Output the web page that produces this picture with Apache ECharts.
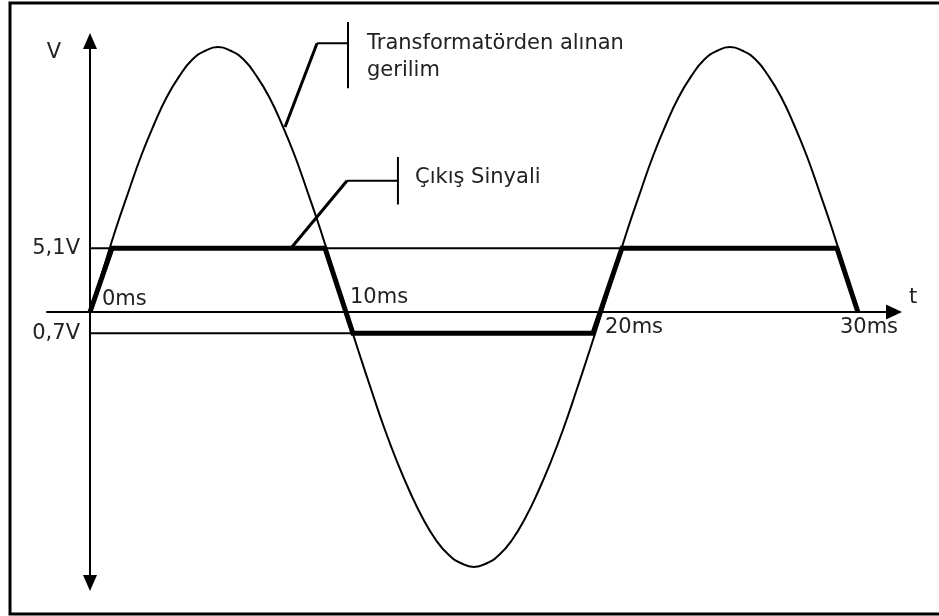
<!DOCTYPE html>
<html>
<head>
    <meta charset="utf-8">
    <script src="https://cdn.jsdelivr.net/npm/echarts@6/dist/echarts.min.js"></script>
    <style>
        html, body { margin: 0; padding: 0; background: #fff; }
        #main { width: 939px; height: 616px; }
    </style>
</head>
<body>
<div id="main"></div>
<script type="text/javascript">
    // zaman (ms) ve gerilim (çizim birimi), resimden okunan noktalar
    var sineTime = [0, 0.5, 1, 1.5, 2, 2.5, 3, 3.5, 4, 4.5, 5, 5.5, 6, 6.5, 7, 7.5, 8, 8.5, 9, 9.5,
                    10, 10.5, 11, 11.5, 12, 12.5, 13, 13.5, 14, 14.5, 15, 15.5, 16, 16.5, 17, 17.5, 18, 18.5, 19, 19.5,
                    20, 20.5, 21, 21.5, 22, 22.5, 23, 23.5, 24, 24.5, 25, 25.5, 26, 26.5, 27, 27.5, 28, 28.5, 29, 29.5, 30];
    var sineVolt = [0, 3.3, 6.6, 9.6, 12.5, 15.0, 17.2, 18.9, 20.2, 20.9, 21.2, 20.9, 20.2, 18.9, 17.2, 15.0, 12.5, 9.6, 6.6, 3.3,
                    0, -3.2, -6.3, -9.3, -12.0, -14.4, -16.5, -18.2, -19.4, -20.1, -20.4, -20.1, -19.4, -18.2, -16.5, -14.4, -12.0, -9.3, -6.3, -3.2,
                    0, 3.3, 6.6, 9.6, 12.5, 15.0, 17.2, 18.9, 20.2, 20.9, 21.2, 20.9, 20.2, 18.9, 17.2, 15.0, 12.5, 9.6, 6.6, 3.3, 0];

    var outTime = [0, 0.86, 9.18, 10.27, 19.65, 20.78, 29.18, 30];
    var outVolt = [0, 5.1, 5.1, -1.7, -1.7, 5.1, 5.1, 0];

    // referans çizgileri: seviye, bitiş zamanı
    var levelValues = [5.1, -1.7];
    var levelLabels = ['5,1V', '0,7V'];
    var levelEnds = [29.18, 19.65];

    var xTickValues = [0, 10, 20, 30];
    var xTickLabels = ['0ms', '10ms', '20ms', '30ms'];

    var sineNote = ['Transformatörden alınan', 'gerilim'];
    var outNote = 'Çıkış Sinyali';

    // açıklama çizgileri (ms, V)
    var sineLeaderSlant = [[7.62, 14.8], [8.87, 21.5]];
    var sineLeaderFlat = [[8.87, 21.5], [10.08, 21.5]];
    var sineLeaderBar = [[10.08, 23.2], [10.08, 17.9]];
    var outLeaderSlant = [[7.89, 5.2], [10.04, 10.5]];
    var outLeaderFlat = [[10.04, 10.5], [12.03, 10.5]];
    var outLeaderBar = [[12.03, 12.4], [12.03, 8.6]];

    var FONT = 'DejaVu Sans';
    var TXT = '#222';
    var FS = 21;

    function zip(a, b) {
        return a.map(function (v, i) { return [v, b[i]]; });
    }

    function thin(data, w) {
        return {
            type: 'line', data: data, symbol: 'none', silent: true, clip: false,
            lineStyle: { color: '#000', width: w }, z: 3
        };
    }

    var labelOffsets = [[12, -12], [4, -14], [3, 16], [-18, 16]];

    var myChart = echarts.init(document.getElementById('main'));

    var opt = {
        backgroundColor: '#fff',
        animation: false,
        grid: { left: 47, top: 41, width: 847, height: 542, containLabel: false, outerBoundsMode: 'none' },
        xAxis: {
            type: 'value',
            min: -1.68,
            max: 31.41,
            axisLine: {
                onZero: true,
                symbol: ['none', 'triangle'],
                symbolSize: [15, 16],
                lineStyle: { color: '#000', width: 2 }
            },
            axisTick: { show: false },
            axisLabel: { show: false },
            splitLine: { show: false }
        },
        yAxis: {
            type: 'value',
            min: -21.68,
            max: 21.68,
            axisLine: {
                onZero: true,
                symbol: ['triangle', 'triangle'],
                symbolSize: [14, 16],
                lineStyle: { color: '#000', width: 2 }
            },
            axisTick: { show: false },
            axisLabel: {
                customValues: levelValues,
                margin: -33,
                fontSize: FS,
                fontFamily: FONT,
                color: TXT,
                formatter: function (v) {
                    var best = 0;
                    levelValues.forEach(function (l, i) {
                        if (Math.abs(l - v) < Math.abs(levelValues[best] - v)) best = i;
                    });
                    return levelLabels[best];
                }
            },
            splitLine: { show: false }
        },
        graphic: [
            {
                type: 'rect', shape: { x: 10, y: 3, width: 940, height: 611 },
                style: { fill: 'none', stroke: '#000', lineWidth: 3 }, silent: true
            },
            { type: 'text', x: 54, y: 53, style: { text: 'V', font: FS + 'px ' + FONT, fill: TXT, textAlign: 'center', textVerticalAlign: 'middle' } },
            { type: 'text', x: 913, y: 298, style: { text: 't', font: FS + 'px ' + FONT, fill: TXT, textAlign: 'center', textVerticalAlign: 'middle' } },
            { type: 'text', x: 367, y: 44, style: { text: sineNote[0], font: FS + 'px ' + FONT, fill: TXT, textAlign: 'left', textVerticalAlign: 'middle' } },
            { type: 'text', x: 367, y: 71, style: { text: sineNote[1], font: FS + 'px ' + FONT, fill: TXT, textAlign: 'left', textVerticalAlign: 'middle' } },
            { type: 'text', x: 415, y: 178, style: { text: outNote, font: FS + 'px ' + FONT, fill: TXT, textAlign: 'left', textVerticalAlign: 'middle' } }
        ],
        series: [
            {
                name: 'gerilim',
                type: 'line',
                data: zip(sineTime, sineVolt),
                smooth: 0.5,
                symbol: 'none',
                lineStyle: { color: '#000', width: 2 },
                z: 4
            },
            thin([[0, levelValues[0]], [levelEnds[0], levelValues[0]]], 2),
            thin([[0, levelValues[1]], [levelEnds[1], levelValues[1]]], 2),
            {
                name: 'cikis',
                type: 'line',
                data: zip(outTime, outVolt),
                symbol: 'none',
                lineStyle: { color: '#000', width: 5, join: 'miter' },
                z: 5
            },
            thin(sineLeaderSlant, 3),
            thin(sineLeaderFlat, 2),
            thin(sineLeaderBar, 2),
            thin(outLeaderSlant, 3),
            thin(outLeaderFlat, 2),
            thin(outLeaderBar, 2),
            {
                type: 'scatter',
                silent: true,
                symbolSize: 0,
                itemStyle: { color: '#000', opacity: 1 },
                data: xTickValues.map(function (v, i) {
                    return {
                        value: [v, 0],
                        label: { position: labelOffsets[i] }
                    };
                }),
                label: {
                    show: true,
                    fontSize: FS,
                    fontFamily: FONT,
                    color: TXT,
                    opacity: 1,
                    align: 'left',
                    verticalAlign: 'middle',
                    formatter: function (p) { return xTickLabels[p.dataIndex]; }
                },
                z: 6
            }
        ]
    };

    myChart.setOption(option = opt);
</script>
</body>
</html>
